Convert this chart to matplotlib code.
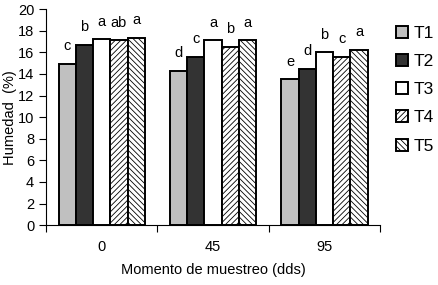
import matplotlib
matplotlib.use("Agg")
import matplotlib.pyplot as plt
import numpy as np

plt.rcParams["font.family"] = ["Liberation Sans", "DejaVu Sans"]
plt.rcParams["hatch.linewidth"] = 0.6

groups = ["0", "45", "95"]
series = ["T1", "T2", "T3", "T4", "T5"]
values = {
    "T1": [14.9, 14.3, 13.5],
    "T2": [16.7, 15.6, 14.5],
    "T3": [17.2, 17.1, 16.0],
    "T4": [17.1, 16.5, 15.6],
    "T5": [17.3, 17.1, 16.2],
}
letters = {
    "T1": ["c", "d", "e"],
    "T2": ["b", "c", "d"],
    "T3": ["a", "a", "b"],
    "T4": ["ab", "b", "c"],
    "T5": ["a", "a", "a"],
}
colors = {"T1": "#c0c0c0", "T2": "#333333", "T3": "white", "T4": "white", "T5": "white"}
hatches = {"T1": None, "T2": None, "T3": None, "T4": "//////", "T5": "\\\\\\\\\\\\"}

fig = plt.figure(figsize=(4.38, 2.85), dpi=100)
ax = fig.add_axes([0.105, 0.21, 0.763, 0.758])

x = np.arange(len(groups))
w = 0.155
for i, s in enumerate(series):
    pos = x + (i - 2) * w
    ax.bar(pos, values[s], width=w, color=colors[s], edgecolor="black",
           linewidth=1.4, hatch=hatches[s], label=s)
    for xp, v, t in zip(pos, values[s], letters[s]):
        ax.text(xp, v + 1.0, t, ha="center", va="bottom", fontsize=10.5)

ax.set_xlim(-0.5, 2.5)
ax.set_ylim(0, 20)
ax.set_yticks(np.arange(0, 21, 2))
ax.set_xticks([-0.5, 0.5, 1.5, 2.5])
ax.set_xticklabels([])
ax.set_xticks(x, minor=True)
ax.set_xticklabels(groups, minor=True)
ax.tick_params(axis="x", which="minor", length=0, pad=11, labelsize=10.5)
ax.tick_params(axis="x", which="major", length=5, direction="out")
ax.tick_params(axis="y", length=5, labelsize=10.5)
for sp in ["top", "right"]:
    ax.spines[sp].set_visible(False)

ax.set_xlabel("Momento de muestreo (dds)", fontsize=10.5, labelpad=6)
ax.set_ylabel("Humedad  (%)", fontsize=10.5)
ax.yaxis.set_label_coords(-0.088, 0.5)

ax.legend(loc="upper left", bbox_to_anchor=(1.0, 0.995), frameon=False,
          fontsize=12.5, handlelength=0.7, handleheight=0.7, handletextpad=0.3,
          labelspacing=0.75)

fig.savefig("out.png", dpi=100)
